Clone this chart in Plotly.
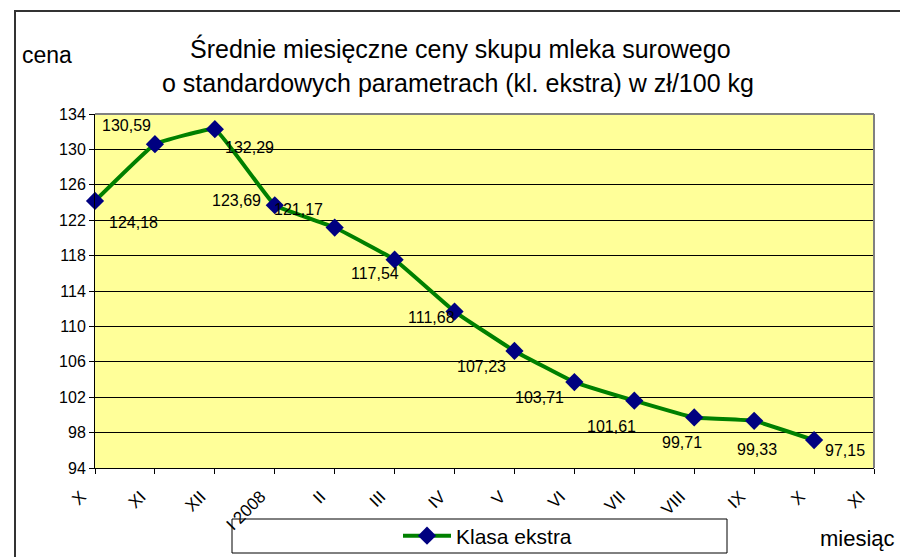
import plotly.graph_objects as go

months = ["X", "XI", "XII", "I 2008", "II", "III", "IV", "V", "VI", "VII", "VIII", "IX", "X", "XI"]
prices = [124.18, 130.59, 132.29, 123.69, 121.17, 117.54, 111.68, 107.23, 103.71, 101.61, 99.71, 99.33, 97.15]
price_labels = ["124,18", "130,59", "132,29", "123,69", "121,17", "117,54", "111,68", "107,23",
                "103,71", "101,61", "99,71", "99,33", "97,15"]
y_ticks = [94, 98, 102, 106, 110, 114, 118, 122, 126, 130, 134]
series_name = "Klasa ekstra"
title_lines = ["Średnie miesięczne ceny skupu mleka surowego",
               "o standardowych parametrach (kl. ekstra) w zł/100 kg"]

# label offsets (pixels) relative to each point
label_shift = [(38, -22), (-28, 19), (35, -18), (-38, 5), (-36, 18), (-20, -14), (-23, -6),
               (-33, -16), (-35, -15), (-23, -26), (-12, -25), (3, -29), (31, -10)]

FONT = "Liberation Sans, Arial, sans-serif"
idx = list(range(len(prices)))

# plot area in page pixels: x 95..874, y 114..468
PW, PH = 779, 354


def px(xp):
    return (xp - 95) / PW


def py(yp):
    return (468 - yp) / PH


fig = go.Figure()
fig.add_trace(go.Scatter(
    x=idx, y=prices, name=series_name, mode="lines+markers",
    line=dict(color="#008000", width=4, shape="spline", smoothing=0.25),
    marker=dict(symbol="diamond", size=14, color="#000080"),
    cliponaxis=False,
))

annotations = []
for i, (v, t) in enumerate(zip(prices, price_labels)):
    dx, dy = label_shift[i]
    annotations.append(dict(x=i, y=v, xref="x", yref="y", text=t, showarrow=False,
                            xshift=dx, yshift=dy, font=dict(family=FONT, size=16, color="black")))

annotations += [
    dict(x=px(460), y=py(48), xref="paper", yref="paper", text=title_lines[0], showarrow=False,
         xanchor="center", yanchor="middle", font=dict(family=FONT, size=25, color="black")),
    dict(x=px(458), y=py(83), xref="paper", yref="paper", text=title_lines[1], showarrow=False,
         xanchor="center", yanchor="middle", font=dict(family=FONT, size=25, color="black")),
    dict(x=px(20), y=py(55), xref="paper", yref="paper", text="cena", showarrow=False,
         xanchor="left", yanchor="middle", font=dict(family=FONT, size=23, color="black")),
    dict(x=px(818), y=py(538), xref="paper", yref="paper", text="miesiąc", showarrow=False,
         xanchor="left", yanchor="middle", font=dict(family=FONT, size=22, color="black")),
]

shapes = [
    # outer chart frame
    dict(type="rect", xref="paper", yref="paper", x0=px(15), x1=px(930), y0=py(580), y1=py(11),
         line=dict(color="#333333", width=2), layer="above"),
    # plot area border (gray) top and right
    dict(type="line", xref="paper", yref="paper", x0=0, x1=1, y0=1, y1=1,
         line=dict(color="#808080", width=2), layer="above"),
    dict(type="line", xref="paper", yref="paper", x0=1, x1=1, y0=0, y1=1,
         line=dict(color="#808080", width=2), layer="above"),
    # legend box
    dict(type="rect", xref="paper", yref="paper", x0=px(232), x1=px(727),
         y0=py(553), y1=py(519),
         line=dict(color="black", width=1), fillcolor="white", layer="below"),
]

fig.update_layout(
    width=900, height=557,
    margin=dict(l=95, r=26, t=114, b=89, autoexpand=False),
    paper_bgcolor="white", plot_bgcolor="#FFFF99",
    font=dict(family=FONT, color="black"),
    showlegend=True,
    legend=dict(x=px(398), y=py(536), xanchor="left", yanchor="middle",
                bgcolor="rgba(0,0,0,0)", borderwidth=0, font=dict(family=FONT, size=21),
                itemwidth=48),
    annotations=annotations,
    shapes=shapes,
)
fig.update_xaxes(
    range=[0, len(months) - 1], tickmode="array", tickvals=list(range(len(months))), ticktext=months,
    tickangle=-45, ticks="outside", ticklen=5, tickcolor="black", showgrid=False,
    showline=True, linecolor="black", linewidth=1, zeroline=False, automargin=False,
    ticklabelstandoff=6, ticklabelshift=-14,
    tickfont=dict(family=FONT, size=17, color="black"),
)
fig.update_yaxes(
    range=[94, 134], tickmode="array", tickvals=y_ticks, ticks="outside", ticklen=5, tickcolor="black",
    showgrid=True, gridcolor="black", gridwidth=1, showline=True, linecolor="black", linewidth=1,
    zeroline=False, automargin=False, tickfont=dict(family=FONT, size=16, color="black"),
)

fig.write_html(
    "out.html",
    config={"displayModeBar": False},
    post_script="document.body.style.margin='0';document.body.style.overflow='hidden';",
)
